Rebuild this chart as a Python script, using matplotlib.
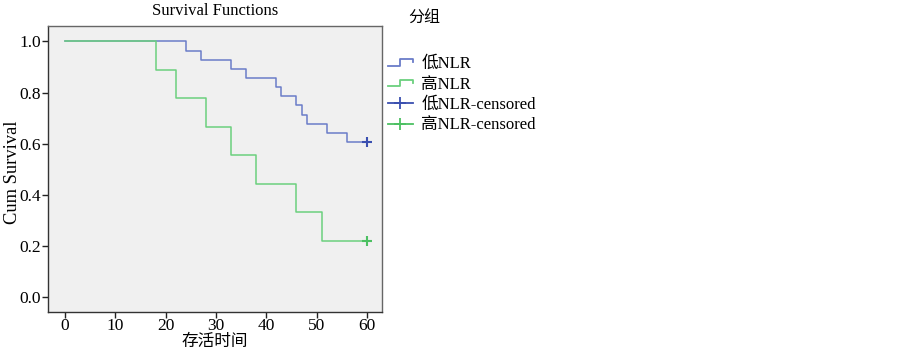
import matplotlib
matplotlib.use("Agg")
import matplotlib.pyplot as plt
from matplotlib.lines import Line2D
from matplotlib.legend_handler import HandlerBase

plt.rcParams['font.family'] = ['Liberation Serif', 'Noto Sans CJK SC', 'DejaVu Sans']

# ---- data ----
low_times = [0, 24, 27, 33, 36, 42, 43, 46, 47, 48, 52, 56, 60]
low_surv = [1.0, 0.964, 0.929, 0.893, 0.857, 0.821, 0.786, 0.750, 0.714, 0.679, 0.643, 0.607, 0.607]
high_times = [0, 18, 22, 28, 33, 38, 46, 51, 60]
high_surv = [1.0, 0.889, 0.778, 0.667, 0.556, 0.444, 0.333, 0.222, 0.222]
low_cens_t = [60]
low_cens_s = [0.607]
high_cens_t = [60]
high_cens_s = [0.222]
x_ticks = [0, 10, 20, 30, 40, 50, 60]
y_ticks = [0.0, 0.2, 0.4, 0.6, 0.8, 1.0]
labels = ['低NLR', '高NLR', '低NLR-censored', '高NLR-censored']

blue = '#6a7cc8'
green = '#6bd07e'
blue_m = '#3a4fb0'
green_m = '#4cc062'

fig = plt.figure(figsize=(9.03, 3.53), dpi=100)
ax = fig.add_axes([48/903, 1 - 312/353, (382-48)/903, (312-26)/353])
ax.set_facecolor('#f0f0f0')

ax.step(low_times, low_surv, where='post', color=blue, lw=1.1)
ax.step(high_times, high_surv, where='post', color=green, lw=1.1)
ax.plot(low_cens_t, low_cens_s, ls='none', marker='+', color=blue_m, ms=7, mew=1.5)
ax.plot(high_cens_t, high_cens_s, ls='none', marker='+', color=green_m, ms=7, mew=1.5)

ax.set_xlim(-3.4, 63.0)
ax.set_ylim(-0.057, 1.06)
ax.set_xticks(x_ticks)
ax.set_xticklabels([str(v) for v in x_ticks])
ax.set_yticks(y_ticks)
ax.set_yticklabels([f'{v:.1f}' for v in y_ticks])
ax.tick_params(axis='both', labelsize=12.5, length=4, width=1, color='#222222', pad=1)
ax.tick_params(axis='x', pad=0)
for s in ['left', 'bottom']:
    ax.spines[s].set_color('#333333')
for s in ['top', 'right']:
    ax.spines[s].set_color('#666666')
for s in ax.spines.values():
    s.set_linewidth(1)

ax.set_title('Survival Functions', fontsize=12, pad=8)
ax.set_xlabel('存活时间', fontsize=12, labelpad=0)
ax.set_ylabel('Cum Survival', fontsize=13.3)
ax.yaxis.set_label_coords(-0.082, 0.487)


class HandlerStep(HandlerBase):
    def create_artists(self, legend, orig_handle, xdescent, ydescent,
                       width, height, fontsize, trans):
        x0 = -xdescent
        y_lo = -ydescent + 0.2 * height
        y_hi = -ydescent + 0.75 * height
        xs = [x0, x0 + 0.5 * width, x0 + 0.5 * width, x0 + width, x0 + width]
        ys = [y_lo, y_lo, y_hi, y_hi, y_hi - 0.25 * height]
        ln = Line2D(xs, ys, color=orig_handle.get_color(), lw=1.3, transform=trans)
        return [ln]


h1 = Line2D([], [], color=blue)
h2 = Line2D([], [], color=green)
h3 = Line2D([], [], color=blue_m, marker='+', ms=9, mew=1.3, lw=1.3)
h4 = Line2D([], [], color=green_m, marker='+', ms=9, mew=1.3, lw=1.3)

fig.legend([h1, h2, h3, h4], labels,
           handler_map={h1: HandlerStep(), h2: HandlerStep()},
           loc='upper left', bbox_to_anchor=(388/903, 1 - 56/353),
           frameon=False, fontsize=12, handlelength=1.5, handletextpad=0.5,
           labelspacing=0.27, borderpad=0, borderaxespad=0, numpoints=1)

fig.text(408/903, 1 - 19/353, '分组', fontsize=11.5, ha='left', va='center')

fig.savefig('out.png', dpi=100)
